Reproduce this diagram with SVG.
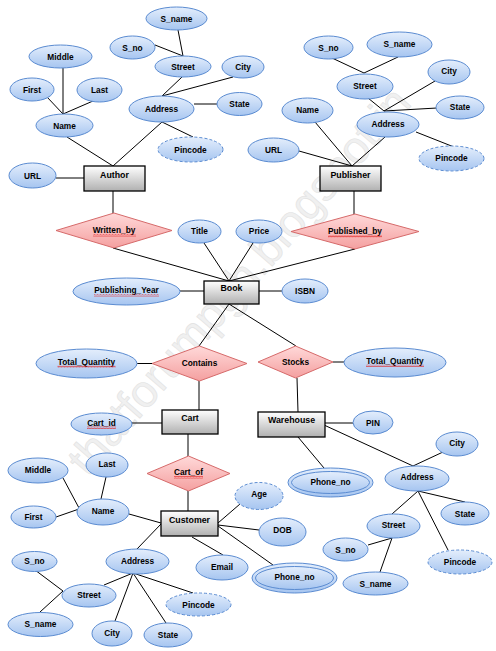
<svg xmlns="http://www.w3.org/2000/svg" width="496" height="651" viewBox="0 0 496 651">
<defs>
<linearGradient id="gE" x1="0" y1="0" x2="0" y2="1"><stop offset="0" stop-color="#e4eefc"/><stop offset="1" stop-color="#a6c5f0"/></linearGradient>
<linearGradient id="gR" x1="0" y1="0" x2="0" y2="1"><stop offset="0" stop-color="#ffffff"/><stop offset="1" stop-color="#b0b0b0"/></linearGradient>
<linearGradient id="gD" x1="0" y1="0" x2="0" y2="1"><stop offset="0" stop-color="#ffd9d9"/><stop offset="1" stop-color="#f4a0a0"/></linearGradient>
<pattern id="wave" width="3" height="2.5" patternUnits="userSpaceOnUse"><path d="M0,2 L0.75,0.7 L1.5,2 L2.25,0.7 L3,2" fill="none" stroke="#e02020" stroke-width="0.7"/></pattern>
<style>
.e{fill:url(#gE);stroke:#5a8bd1;stroke-width:1}
.d{stroke-dasharray:3,2}
.r{fill:url(#gR);stroke:#000;stroke-width:1.3}
.m{fill:url(#gD);stroke:#d66a6a;stroke-width:1}
text{font-family:"Liberation Sans",Arial,sans-serif;font-weight:bold;font-size:8.3px;fill:#000;text-anchor:middle}
.t{font-size:8.8px}
.c line{stroke:#000;stroke-width:1}
.w{fill:url(#wave)}
.wm{font-family:"Liberation Sans",Arial,sans-serif;font-weight:normal;font-size:45px;fill:#f0f0f0;stroke:#e2e2e2;stroke-width:0.6;text-anchor:start}
</style>
</defs>
<rect width="496" height="651" fill="#fff"/>
<text class="wm" transform="translate(88,478) rotate(-49)">thatforumpgh.blogspot.in</text>
<g id="connectors" class="c">
<line x1="178" y1="30" x2="183" y2="56"/>
<line x1="155" y1="45" x2="183" y2="56"/>
<line x1="182" y1="77" x2="162" y2="96"/>
<line x1="233" y1="77" x2="162" y2="96"/>
<line x1="194" y1="104" x2="217" y2="104"/>
<line x1="162" y1="122" x2="193" y2="137"/>
<line x1="63" y1="68" x2="63" y2="114"/>
<line x1="47" y1="97" x2="63" y2="114"/>
<line x1="93" y1="101" x2="63" y2="114"/>
<line x1="67" y1="137" x2="113" y2="166"/>
<line x1="162" y1="122" x2="113" y2="166"/>
<line x1="56" y1="178" x2="84" y2="178"/>
<line x1="113" y1="191" x2="113" y2="213"/>
<line x1="332" y1="58" x2="364" y2="73"/>
<line x1="398" y1="57" x2="364" y2="73"/>
<line x1="368" y1="98" x2="384" y2="111"/>
<line x1="435" y1="81" x2="384" y2="111"/>
<line x1="437" y1="108" x2="384" y2="111"/>
<line x1="416" y1="132" x2="454" y2="147"/>
<line x1="315" y1="122" x2="352" y2="166"/>
<line x1="385" y1="137" x2="352" y2="166"/>
<line x1="299" y1="151" x2="352" y2="166"/>
<line x1="354" y1="191" x2="354" y2="214"/>
<line x1="113" y1="248" x2="229" y2="281"/>
<line x1="204" y1="243" x2="229" y2="281"/>
<line x1="253" y1="243" x2="229" y2="281"/>
<line x1="355" y1="249" x2="229" y2="281"/>
<line x1="180" y1="291" x2="204" y2="291"/>
<line x1="259" y1="291" x2="282" y2="291"/>
<line x1="229" y1="304" x2="199" y2="346"/>
<line x1="229" y1="304" x2="296" y2="346"/>
<line x1="137" y1="363.5" x2="152" y2="363.5"/>
<line x1="333" y1="362" x2="344" y2="362"/>
<line x1="199" y1="381" x2="199" y2="410"/>
<line x1="297" y1="378" x2="298" y2="412"/>
<line x1="132" y1="423" x2="162" y2="423"/>
<line x1="188" y1="434" x2="188" y2="456"/>
<line x1="188" y1="491" x2="188" y2="511"/>
<line x1="325" y1="423" x2="353" y2="423"/>
<line x1="324" y1="425" x2="413" y2="466"/>
<line x1="443" y1="452" x2="413" y2="466"/>
<line x1="298" y1="437" x2="324" y2="468"/>
<line x1="418" y1="491" x2="392" y2="514"/>
<line x1="418" y1="491" x2="465" y2="502"/>
<line x1="418" y1="491" x2="448" y2="550"/>
<line x1="368" y1="545" x2="392" y2="538"/>
<line x1="380" y1="572" x2="392" y2="538"/>
<line x1="63" y1="478" x2="79" y2="508"/>
<line x1="106" y1="477" x2="101" y2="499"/>
<line x1="56" y1="517" x2="79" y2="509"/>
<line x1="129" y1="514" x2="161" y2="523"/>
<line x1="161" y1="524" x2="137" y2="549"/>
<line x1="192" y1="537" x2="223" y2="555"/>
<line x1="218" y1="523" x2="240" y2="504"/>
<line x1="218" y1="525" x2="259" y2="530"/>
<line x1="218" y1="526" x2="273" y2="565"/>
<line x1="104" y1="585" x2="133" y2="573"/>
<line x1="115" y1="621" x2="133" y2="573"/>
<line x1="166" y1="623" x2="133" y2="573"/>
<line x1="193" y1="593" x2="133" y2="573"/>
<line x1="35" y1="570" x2="63" y2="591"/>
<line x1="40" y1="612" x2="63" y2="591"/>
</g>
<g id="author_sname"><ellipse class="e" cx="176.5" cy="18.5" rx="30.5" ry="11.5"/><text x="176.5" y="21.5">S_name</text></g>
<g id="author_sno"><ellipse class="e" cx="132.5" cy="47.5" rx="22.5" ry="11.5"/><text x="132.5" y="50.5">S_no</text></g>
<g id="author_street"><ellipse class="e" cx="183" cy="66.5" rx="28" ry="10.5"/><text x="183" y="69.5">Street</text></g>
<g id="author_city"><ellipse class="e" cx="243" cy="67" rx="21" ry="11"/><text x="243" y="70">City</text></g>
<g id="author_middle"><ellipse class="e" cx="60.5" cy="56.5" rx="31.5" ry="11.5"/><text x="60.5" y="59.5">Middle</text></g>
<g id="author_first"><ellipse class="e" cx="32" cy="89.5" rx="22" ry="11.5"/><text x="32" y="92.5">First</text></g>
<g id="author_last"><ellipse class="e" cx="99.5" cy="90" rx="22.5" ry="12"/><text x="99.5" y="93">Last</text></g>
<g id="author_name"><ellipse class="e" cx="64.5" cy="125.5" rx="28.5" ry="11.5"/><text x="64.5" y="128.5">Name</text></g>
<g id="author_address"><ellipse class="e" cx="161.5" cy="109" rx="32.5" ry="13"/><text x="161.5" y="111.5">Address</text></g>
<g id="author_state"><ellipse class="e" cx="239.5" cy="104" rx="22.5" ry="11.5"/><text x="239.5" y="107">State</text></g>
<g id="author_pincode"><ellipse class="e d" cx="190.5" cy="149.5" rx="32.5" ry="12.5"/><text x="190.5" y="152.5">Pincode</text></g>
<g id="author_url"><ellipse class="e" cx="32.5" cy="175.5" rx="23.5" ry="12.5"/><text x="32.5" y="178.5">URL</text></g>
<g id="author"><rect class="r" x="84" y="166" width="61" height="25"/><text class="t" x="114.5" y="178">Author</text></g>
<g id="pub_sno"><ellipse class="e" cx="328.5" cy="47.5" rx="24.5" ry="11.5"/><text x="328.5" y="50.5">S_no</text></g>
<g id="pub_sname"><ellipse class="e" cx="399.5" cy="44.5" rx="32.5" ry="12.5"/><text x="399.5" y="46.5">S_name</text></g>
<g id="pub_street"><ellipse class="e" cx="365" cy="86.5" rx="28" ry="12.5"/><text x="365" y="88.5">Street</text></g>
<g id="pub_city"><ellipse class="e" cx="449" cy="72" rx="21" ry="12"/><text x="449" y="74">City</text></g>
<g id="pub_state"><ellipse class="e" cx="460" cy="107.5" rx="24" ry="11.5"/><text x="460" y="110">State</text></g>
<g id="pub_name"><ellipse class="e" cx="307.5" cy="110.5" rx="25.5" ry="12.5"/><text x="307.5" y="113">Name</text></g>
<g id="pub_address"><ellipse class="e" cx="388" cy="124.5" rx="31" ry="12.5"/><text x="388" y="127">Address</text></g>
<g id="pub_url"><ellipse class="e" cx="273.5" cy="150" rx="25.5" ry="12"/><text x="273.5" y="152.5">URL</text></g>
<g id="pub_pincode"><ellipse class="e d" cx="451.5" cy="158.5" rx="32.5" ry="12.5"/><text x="451.5" y="161">Pincode</text></g>
<g id="publisher"><rect class="r" x="320" y="166" width="61" height="25"/><text class="t" x="350.5" y="178">Publisher</text></g>
<g id="written_by"><polygon class="m" points="56,230.5 114,213 172,230.5 114,248"/><text x="114" y="233">Written_by</text><rect class="w" x="93" y="234" width="43" height="2.5"/></g>
<g id="title"><ellipse class="e" cx="199.5" cy="231.5" rx="21.5" ry="11.5"/><text x="199.5" y="234">Title</text></g>
<g id="price"><ellipse class="e" cx="259" cy="231.5" rx="23" ry="11.5"/><text x="259" y="234">Price</text></g>
<g id="published_by"><polygon class="m" points="291,231.5 355,214 419,231.5 355,249"/><text x="355" y="234">Published_by</text><rect class="w" x="328" y="235" width="54" height="2.5"/></g>
<g id="publishing_year"><ellipse class="e" cx="126.5" cy="291.5" rx="53.5" ry="13.5"/><text x="126.5" y="293">Publishing_Year</text><rect class="w" x="94" y="294" width="65" height="2.5"/></g>
<g id="book"><rect class="r" x="204" y="281" width="55" height="23"/><text class="t" x="231.5" y="291">Book</text></g>
<g id="isbn"><ellipse class="e" cx="305" cy="291" rx="23" ry="12"/><text x="305" y="294">ISBN</text></g>
<g id="total_quantity_1"><ellipse class="e" cx="86.5" cy="363.5" rx="50.5" ry="14.5"/><text x="86.5" y="364.5">Total_Quantity</text><rect class="w" x="57.5" y="365.5" width="58" height="2.5"/></g>
<g id="contains"><polygon class="m" points="152,363.5 199.5,346 247,363.5 199.5,381"/><text x="199.5" y="366">Contains</text></g>
<g id="stocks"><polygon class="m" points="258,362 295.5,346 333,362 295.5,378"/><text x="295.5" y="365">Stocks</text></g>
<g id="total_quantity_2"><ellipse class="e" cx="395" cy="362.5" rx="51" ry="14.5"/><text x="395" y="363.5">Total_Quantity</text><rect class="w" x="366" y="364.5" width="58" height="2.5"/></g>
<g id="cart_id"><ellipse class="e" cx="101.5" cy="424" rx="30.5" ry="11"/><text x="101.5" y="425.5">Cart_id</text><rect class="w" x="87" y="426.5" width="29" height="2.5"/></g>
<g id="cart"><rect class="r" x="162" y="410" width="56" height="24"/><text class="t" x="190" y="421">Cart</text></g>
<g id="warehouse"><rect class="r" x="258" y="412" width="67" height="25"/><text class="t" x="291.5" y="423">Warehouse</text></g>
<g id="pin"><ellipse class="e" cx="373" cy="422.5" rx="20" ry="11.5"/><text x="373" y="425.5">PIN</text></g>
<g id="cart_of"><polygon class="m" points="147,473.5 188.5,456 230,473.5 188.5,491"/><text x="188.5" y="475">Cart_of</text><rect class="w" x="174" y="476" width="29" height="2.5"/></g>
<g id="customer"><rect class="r" x="161" y="511" width="57" height="25"/><text class="t" x="189.5" y="523">Customer</text></g>
<g id="cust_middle"><ellipse class="e" cx="38" cy="470.5" rx="30" ry="12.5"/><text x="38" y="473">Middle</text></g>
<g id="cust_last"><ellipse class="e" cx="107" cy="465" rx="21" ry="12"/><text x="107" y="467">Last</text></g>
<g id="cust_first"><ellipse class="e" cx="33.5" cy="517" rx="22.5" ry="11"/><text x="33.5" y="520">First</text></g>
<g id="cust_name"><ellipse class="e" cx="103" cy="512" rx="26" ry="13"/><text x="103" y="514">Name</text></g>
<g id="cust_address"><ellipse class="e" cx="137.5" cy="561.5" rx="31.5" ry="12.5"/><text x="137.5" y="564">Address</text></g>
<g id="cust_email"><ellipse class="e" cx="222" cy="567.5" rx="26" ry="12.5"/><text x="222" y="570">Email</text></g>
<g id="cust_sno"><ellipse class="e" cx="34.5" cy="561.5" rx="22.5" ry="10"/><text x="34.5" y="564">S_no</text></g>
<g id="cust_street"><ellipse class="e" cx="89" cy="595.5" rx="27" ry="11.5"/><text x="89" y="598">Street</text></g>
<g id="cust_sname"><ellipse class="e" cx="40.5" cy="624.5" rx="32.5" ry="12"/><text x="40.5" y="627">S_name</text></g>
<g id="cust_city"><ellipse class="e" cx="112" cy="633.5" rx="20" ry="12.5"/><text x="112" y="636">City</text></g>
<g id="cust_state"><ellipse class="e" cx="168" cy="635" rx="24" ry="12"/><text x="168" y="638">State</text></g>
<g id="cust_pincode"><ellipse class="e d" cx="198.5" cy="604.5" rx="32.5" ry="11.5"/><text x="198.5" y="607.5">Pincode</text></g>
<g id="cust_age"><ellipse class="e d" cx="259" cy="496" rx="24" ry="13.5"/><text x="259" y="497">Age</text></g>
<g id="cust_dob"><ellipse class="e" cx="282.5" cy="532" rx="23.5" ry="14"/><text x="282.5" y="533">DOB</text></g>
<g id="cust_phone"><ellipse class="e" cx="294.5" cy="578" rx="42.5" ry="15"/><ellipse class="e" cx="294.5" cy="578" rx="39" ry="11.5"/><text x="294.5" y="580">Phone_no</text></g>
<g id="wh_phone"><ellipse class="e" cx="330.5" cy="482.5" rx="42.5" ry="14.5"/><ellipse class="e" cx="330.5" cy="482.5" rx="39" ry="11"/><text x="330.5" y="485">Phone_no</text></g>
<g id="wh_city"><ellipse class="e" cx="457" cy="444" rx="21" ry="12"/><text x="457" y="446">City</text></g>
<g id="wh_address"><ellipse class="e" cx="417" cy="478.5" rx="32" ry="12.5"/><text x="417" y="480">Address</text></g>
<g id="wh_street"><ellipse class="e" cx="393.5" cy="526" rx="26.5" ry="12"/><text x="393.5" y="528">Street</text></g>
<g id="wh_state"><ellipse class="e" cx="465" cy="513.5" rx="24" ry="11.5"/><text x="465" y="516.5">State</text></g>
<g id="wh_pincode"><ellipse class="e d" cx="460" cy="562" rx="32" ry="12"/><text x="460" y="565">Pincode</text></g>
<g id="wh_sno"><ellipse class="e" cx="345.5" cy="549.5" rx="22.5" ry="11.5"/><text x="345.5" y="552.5">S_no</text></g>
<g id="wh_sname"><ellipse class="e" cx="375.5" cy="583.5" rx="32.5" ry="11.5"/><text x="375.5" y="586.5">S_name</text></g>
</svg>
